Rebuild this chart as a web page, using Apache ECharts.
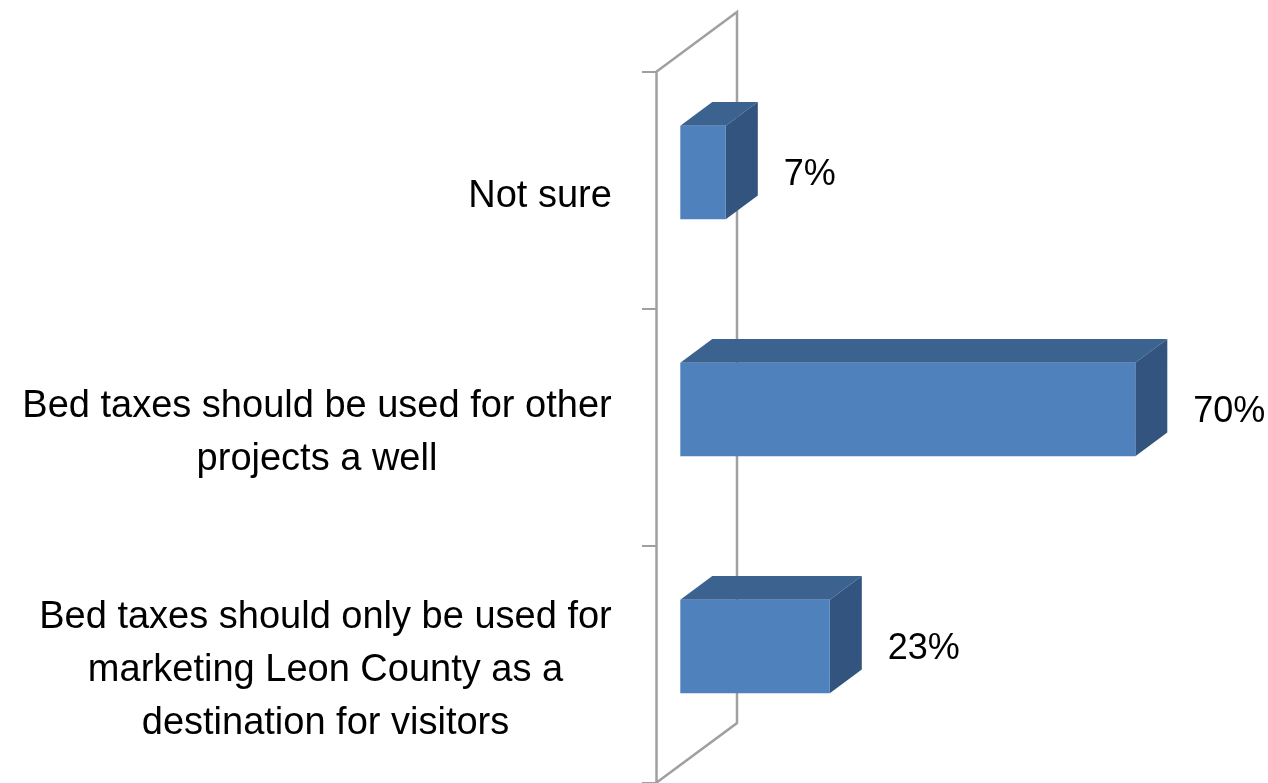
<!DOCTYPE html>
<html><head><meta charset="utf-8">
<script src="https://cdn.jsdelivr.net/npm/echarts@6/dist/echarts.min.js"></script>
<style>html,body{margin:0;padding:0;background:#fff}#c{width:1268px;height:783px}</style>
</head><body><div id="c"></div>
<script>
// ---- data ----
const categories = [
  'Not sure',
  'Bed taxes should be used for other\nprojects a well',
  'Bed taxes should only be used for\nmarketing Leon County as a\ndestination for visitors'
];
const values = [7, 70, 23];
const valueLabels = ['7%', '70%', '23%'];

// ---- style ----
const FONT = '"Liberation Sans", Arial, sans-serif';
const CAT_SIZE = 38;
const VAL_SIZE = 36;
const LINE_H = 53;
const DX = 81, DY = -60;          // full depth projection
const FRONT_D = 0.3, BAR_D = 0.395; // bar position in depth
const BAR_H = 0.395;              // fraction of band
const WALL = '#a0a0a0';

function measure(text, size) {
  const c = document.createElement('canvas').getContext('2d');
  c.font = size + 'px ' + FONT;
  return Math.max(...text.split('\n').map(t => c.measureText(t).width));
}
const rich = {};
categories.forEach((t, i) => {
  rich['c' + i] = { width: Math.ceil(measure(t, CAT_SIZE)) + 2, align: 'center',
    fontSize: CAT_SIZE, lineHeight: LINE_H, fontFamily: FONT, color: '#000' };
});

const chart = echarts.init(document.getElementById('c'), null, { renderer: 'canvas' });
chart.setOption({
  animation: false,
  grid: { left: 656, top: 72, width: 520, height: 714, containLabel: false },
  xAxis: { type: 'value', min: 0, max: 80, show: false },
  yAxis: {
    type: 'category', data: categories, inverse: true,
    axisLine: { show: true, lineStyle: { color: WALL, width: 2.5 } },
    axisTick: { show: true, length: 14, lineStyle: { color: WALL, width: 2 } },
    axisLabel: {
      margin: 43, align: 'right', padding: [12, 0, 0, 0],
      formatter: (v, i) => '{c' + i + '|' + v + '}',
      rich: rich
    },
    splitLine: { show: false }
  },
  series: [
    {
      type: 'custom', clip: false, z: 1, silent: true,
      data: [[0, 0]],
      renderItem: function (params, api) {
        const cs = params.coordSys;
        const x = cs.x, t = cs.y, b = cs.y + cs.height;
        const st = { stroke: WALL, lineWidth: 2.5, fill: null };
        return { type: 'group', children: [
          { type: 'polyline', shape: { points: [[x, t], [x + DX, t + DY], [x + DX, b + DY], [x, b]] }, style: st }
        ] };
      }
    },
    {
      type: 'custom', clip: false, z: 2, silent: true,
      encode: { x: 0, y: 1 },
      data: values.map((v, i) => [v, i]),
      renderItem: function (params, api) {
        const v = api.value(0), ci = api.value(1);
        const p0 = api.coord([0, ci]), p1 = api.coord([v, ci]);
        const band = api.size([0, 1])[1];
        const h = band * BAR_H;
        const fx = FRONT_D * DX, fy = FRONT_D * DY;
        const bx = BAR_D * DX, by = BAR_D * DY;
        const x0 = p0[0] + fx, x1 = p1[0] + fx, yc = p0[1] + fy;
        const y0 = yc - h / 2, y1 = yc + h / 2;
        return { type: 'group', children: [
          { type: 'polygon', shape: { points: [[x0, y0], [x1, y0], [x1 + bx, y0 + by], [x0 + bx, y0 + by]] },
            style: { fill: '#3c6390' } },
          { type: 'polygon', shape: { points: [[x1, y0], [x1 + bx, y0 + by], [x1 + bx, y1 + by], [x1, y1]] },
            style: { fill: '#32547e' } },
          { type: 'rect', shape: { x: x0, y: y0, width: x1 - x0, height: h },
            style: { fill: '#4f81bd' } },
          { type: 'text', x: x1 + bx + 26, y: yc + 3,
            style: { text: valueLabels[params.dataIndex], fontSize: VAL_SIZE, fontFamily: FONT,
              fill: '#000', align: 'left', verticalAlign: 'middle' } }
        ] };
      }
    }
  ]
});
</script>
</body></html>
